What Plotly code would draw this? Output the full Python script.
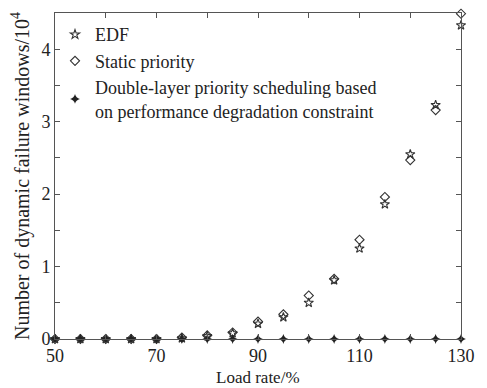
import plotly.graph_objects as go

load_rate = [50, 55, 60, 65, 70, 75, 80, 85, 90, 95, 100, 105, 110, 115, 120, 125, 130]
edf = [0, 0, 0, 0, 0, 0.01, 0.04, 0.08, 0.21, 0.30, 0.50, 0.81, 1.25, 1.86, 2.55, 3.23, 4.33]
static_priority = [0, 0, 0, 0, 0, 0.02, 0.05, 0.09, 0.24, 0.34, 0.60, 0.83, 1.37, 1.96, 2.47, 3.16, 4.49]
double_layer = [0] * 17

font = "Liberation Serif"

fig = go.Figure()
fig.add_trace(go.Scatter(x=load_rate, y=edf, mode="markers", name="EDF",
                         marker=dict(symbol="star-open", size=7, color="#333", line=dict(width=1.1)),
                         cliponaxis=False))
fig.add_trace(go.Scatter(x=load_rate, y=static_priority, mode="markers", name="Static priority",
                         marker=dict(symbol="diamond-open", size=7, color="#333", line=dict(width=1.1)),
                         cliponaxis=False))
fig.add_trace(go.Scatter(x=load_rate, y=double_layer, mode="markers",
                         name="Double-layer priority scheduling based<br>on performance degradation constraint",
                         marker=dict(symbol="star-diamond", size=7, color="#222"),
                         cliponaxis=False))

axis_common = dict(ticks="inside", ticklen=5, showline=True, mirror="ticks", linecolor="#555",
                   linewidth=1, tickcolor="#555", showgrid=False, zeroline=False,
                   tickfont=dict(family=font, size=18, color="#222"))

fig.update_layout(
    width=487, height=388,
    margin=dict(l=55, r=17, t=13, b=49),
    paper_bgcolor="white", plot_bgcolor="white",
    font=dict(family=font, color="#222", size=18),
    showlegend=True,
    legend=dict(x=0.0, y=0.99, xanchor="left", yanchor="top", bgcolor="rgba(0,0,0,0)",
                font=dict(family=font, size=18, color="#222"), tracegroupgap=0),
    xaxis=dict(range=[50, 130], tick0=50, dtick=20,
               minor=dict(dtick=10, ticks="inside", ticklen=5, tickcolor="#555", showgrid=False),
               **axis_common),
    yaxis=dict(range=[0, 4.5], tick0=0, dtick=1,
               minor=dict(dtick=0.5, ticks="inside", ticklen=5, tickcolor="#555", showgrid=False),
               title=dict(text="Number of dynamic failure windows/10<sup>4</sup>", font=dict(family=font, size=20), standoff=6),
               **axis_common),
    annotations=[dict(text="Load rate/%", xref="paper", yref="paper", x=0.5, y=-0.118,
                      xanchor="center", yanchor="middle", showarrow=False,
                      font=dict(family=font, size=17, color="#222"))],
)

fig.write_html("out.html", config={"displayModeBar": False},
               post_script="document.body.style.margin='0';")
